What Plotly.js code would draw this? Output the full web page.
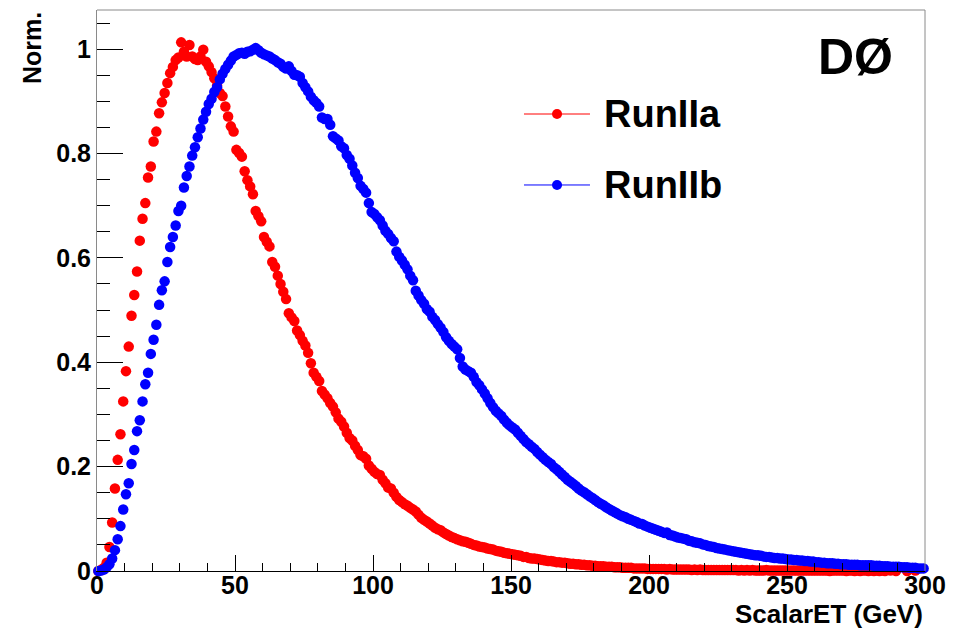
<!DOCTYPE html>
<html>
<head>
<meta charset="utf-8">
<script src="https://cdn.plot.ly/plotly-3.0.1.min.js"></script>
<style>
  html, body { margin: 0; padding: 0; background: #fff; }
  #chart { width: 961px; height: 630px; }
</style>
</head>
<body>
<div id="chart"></div>
<script>
// Histogram binning (GeV): 300 bins of 1 GeV starting at 0
const binLow = 0;
const binWidth = 1;

const seriesNames = ['RunIIa', 'RunIIb'];
const seriesColors = ['#ff0000', '#0000ff'];

// Normalised ScalarET distribution, Run IIa (one value per bin)
const runIIa = [
  0.000, 0.002, 0.006, 0.016, 0.046, 0.093, 0.158, 0.213, 0.262, 0.325,
  0.383, 0.430, 0.489, 0.529, 0.574, 0.633, 0.675, 0.705, 0.754, 0.775,
  0.823, 0.842, 0.877, 0.898, 0.916, 0.935, 0.954, 0.966, 0.979, 0.984,
  1.013, 0.995, 0.986, 1.008, 0.986, 0.981, 0.979, 0.986, 0.999, 0.976,
  0.967, 0.956, 0.944, 0.930, 0.916, 0.910, 0.890, 0.871, 0.852, 0.842,
  0.807, 0.801, 0.794, 0.766, 0.749, 0.737, 0.722, 0.690, 0.680, 0.670,
  0.640, 0.631, 0.622, 0.592, 0.583, 0.566, 0.550, 0.535, 0.521, 0.494,
  0.486, 0.479, 0.461, 0.452, 0.441, 0.432, 0.418, 0.398, 0.380, 0.372,
  0.364, 0.345, 0.338, 0.331, 0.322, 0.315, 0.304, 0.292, 0.286, 0.277,
  0.265, 0.255, 0.250, 0.240, 0.232, 0.222, 0.220, 0.215, 0.202, 0.196,
  0.190, 0.186, 0.184, 0.175, 0.168, 0.160, 0.158, 0.150, 0.142, 0.136,
  0.132, 0.128, 0.125, 0.121, 0.118, 0.114, 0.108, 0.102, 0.098, 0.095,
  0.091, 0.087, 0.083, 0.080, 0.078, 0.074, 0.071, 0.068, 0.065, 0.063,
  0.061, 0.059, 0.057, 0.056, 0.054, 0.052, 0.050, 0.049, 0.047, 0.046,
  0.045, 0.043, 0.042, 0.041, 0.039, 0.038, 0.037, 0.035, 0.034, 0.033,
  0.032, 0.031, 0.030, 0.029, 0.027, 0.027, 0.025, 0.024, 0.024, 0.023,
  0.022, 0.021, 0.020, 0.019, 0.019, 0.018, 0.017, 0.017, 0.016, 0.016,
  0.015, 0.014, 0.014, 0.013, 0.013, 0.012, 0.012, 0.011, 0.011, 0.010,
  0.010, 0.009, 0.009, 0.009, 0.008, 0.008, 0.008, 0.007, 0.007, 0.007,
  0.006, 0.006, 0.006, 0.006, 0.005, 0.005, 0.005, 0.005, 0.005, 0.004,
  0.004, 0.004, 0.004, 0.004, 0.004, 0.004, 0.003, 0.004, 0.003, 0.003,
  0.003, 0.003, 0.003, 0.003, 0.003, 0.002, 0.003, 0.002, 0.003, 0.002,
  0.002, 0.002, 0.002, 0.002, 0.002, 0.002, 0.002, 0.002, 0.002, 0.002,
  0.002, 0.002, 0.001, 0.002, 0.001, 0.002, 0.001, 0.002, 0.001, 0.001,
  0.001, 0.001, 0.002, 0.001, 0.001, 0.001, 0.001, 0.001, 0.001, 0.001,
  0.001, 0.001, 0.001, 0.001, 0.001, 0.001, 0.001, 0.001, 0.001, 0.001,
  0.001, 0.001, 0.001, 0.001, 0.001, 0.000, 0.001, 0.001, 0.001, 0.001,
  0.001, 0.000, 0.001, 0.001, 0.000, 0.001, 0.000, 0.001, 0.001, 0.000,
  0.001, 0.000, 0.001, 0.000, 0.001, 0.000, null,  0.001, null,  0.000,
  null,  null,  null,  0.000, null,  null,  0.001, null,  null,  null
];

// Normalised ScalarET distribution, Run IIb (one value per bin)
const runIIb = [
  0.000, 0.001, 0.003, 0.007, 0.013, 0.024, 0.040, 0.061, 0.086, 0.118,
  0.147, 0.168, 0.205, 0.232, 0.268, 0.289, 0.325, 0.358, 0.380, 0.416,
  0.443, 0.472, 0.510, 0.538, 0.555, 0.592, 0.621, 0.640, 0.662, 0.690,
  0.700, 0.735, 0.757, 0.775, 0.796, 0.812, 0.831, 0.848, 0.865, 0.880,
  0.895, 0.905, 0.918, 0.927, 0.942, 0.953, 0.962, 0.970, 0.978, 0.986,
  0.989, 0.992, 0.993, 0.991, 0.995, 0.996, 0.999, 1.002, 0.998, 0.993,
  0.990, 0.988, 0.986, 0.982, 0.979, 0.975, 0.972, 0.966, 0.963, 0.967,
  0.958, 0.951, 0.950, 0.947, 0.935, 0.927, 0.919, 0.909, 0.902, 0.897,
  0.890, 0.869, 0.866, 0.866, 0.855, 0.833, 0.829, 0.825, 0.814, 0.810,
  0.797, 0.790, 0.777, 0.763, 0.753, 0.738, 0.732, 0.725, 0.705, 0.688,
  0.684, 0.678, 0.672, 0.662, 0.652, 0.646, 0.638, 0.632, 0.612, 0.602,
  0.595, 0.587, 0.578, 0.566, 0.557, 0.537, 0.528, 0.519, 0.512, 0.502,
  0.497, 0.487, 0.481, 0.473, 0.466, 0.458, 0.448, 0.441, 0.435, 0.430,
  0.425, 0.408, 0.392, 0.386, 0.383, 0.380, 0.372, 0.362, 0.356, 0.348,
  0.340, 0.331, 0.322, 0.314, 0.307, 0.302, 0.297, 0.290, 0.284, 0.279,
  0.275, 0.271, 0.265, 0.259, 0.253, 0.247, 0.243, 0.238, 0.234, 0.228,
  0.223, 0.218, 0.213, 0.209, 0.205, 0.199, 0.195, 0.190, 0.185, 0.180,
  0.175, 0.171, 0.167, 0.163, 0.158, 0.154, 0.151, 0.147, 0.143, 0.140,
  0.136, 0.132, 0.129, 0.126, 0.122, 0.119, 0.116, 0.113, 0.110, 0.107,
  0.105, 0.103, 0.100, 0.098, 0.096, 0.094, 0.091, 0.090, 0.087, 0.085,
  0.083, 0.081, 0.079, 0.077, 0.075, 0.073, 0.074, 0.069, 0.068, 0.066,
  0.064, 0.063, 0.062, 0.061, 0.058, 0.057, 0.055, 0.054, 0.053, 0.051,
  0.050, 0.048, 0.047, 0.046, 0.044, 0.043, 0.042, 0.041, 0.040, 0.039,
  0.038, 0.037, 0.036, 0.035, 0.034, 0.033, 0.032, 0.031, 0.030, 0.030,
  0.029, 0.028, 0.027, 0.027, 0.026, 0.025, 0.025, 0.024, 0.024, 0.023,
  0.022, 0.022, 0.021, 0.021, 0.020, 0.020, 0.019, 0.019, 0.018, 0.018,
  0.017, 0.017, 0.016, 0.016, 0.015, 0.015, 0.015, 0.014, 0.014, 0.013,
  0.013, 0.013, 0.012, 0.012, 0.012, 0.012, 0.011, 0.011, 0.011, 0.011,
  0.011, 0.010, 0.010, 0.010, 0.009, 0.009, 0.009, 0.008, 0.008, 0.008,
  0.008, 0.007, 0.007, 0.007, 0.006, 0.006, 0.006, 0.005, 0.005, 0.005
];

const binCenters = runIIa.map((_, i) => binLow + (i + 0.5) * binWidth);

const FONT = 'Liberation Sans, Arial, Helvetica, sans-serif';
const MARKER_SIZE = 10.5;

const traces = [runIIa, runIIb].map((vals, k) => ({
  type: 'scatter',
  mode: 'markers',
  name: seriesNames[k],
  x: binCenters,
  y: vals,
  cliponaxis: false,
  marker: { color: seriesColors[k], size: MARKER_SIZE, line: { width: 0 } },
  hoverinfo: 'x+y+name'
}));

const axisFont = { family: FONT, size: 25, color: '#000', weight: 'bold' };

// Hand-placed legend (paper coordinates): line + marker + label
const legendRows = [
  { y: 0.8146, color: seriesColors[0], label: seriesNames[0] },
  { y: 0.6881, color: seriesColors[1], label: seriesNames[1] }
];
const legendLineX = [0.5157, 0.5954];
const legendDotX = 0.5556;
const legendTextX = 0.6100;

const shapes = [
  // top and right frame edges
  { type: 'line', xref: 'paper', yref: 'paper', x0: 0, x1: 1, y0: 1, y1: 1,
    line: { color: '#8a8a8a', width: 1 } },
  { type: 'line', xref: 'paper', yref: 'paper', x0: 1, x1: 1, y0: 0, y1: 1,
    line: { color: '#8a8a8a', width: 1 } }
];
legendRows.forEach(r => {
  shapes.push({ type: 'line', xref: 'paper', yref: 'paper',
    x0: legendLineX[0], x1: legendLineX[1], y0: r.y, y1: r.y,
    line: { color: r.color, width: 1 } });
  shapes.push({ type: 'circle', xref: 'paper', yref: 'paper',
    xsizemode: 'pixel', ysizemode: 'pixel',
    xanchor: legendDotX, yanchor: r.y, x0: -5, x1: 5, y0: -5, y1: 5,
    fillcolor: r.color, line: { width: 0 } });
});

const annotations = [
  { text: 'Norm.', xref: 'paper', yref: 'paper', x: -0.0785, y: 1.0,
    xanchor: 'center', yanchor: 'top', textangle: -90, showarrow: false,
    font: { family: FONT, size: 25, color: '#000', weight: 'bold' } },
  { text: 'ScalarET (GeV)', xref: 'paper', yref: 'paper', x: 1.0, y: -0.0775,
    xanchor: 'right', yanchor: 'middle', showarrow: false,
    font: { family: FONT, size: 26, color: '#000', weight: 'bold' } },
  { text: 'DØ', xref: 'paper', yref: 'paper', x: 0.9155, y: 0.9162,
    xanchor: 'center', yanchor: 'middle', showarrow: false,
    font: { family: FONT, size: 50, color: '#000', weight: 'bold' } }
];
legendRows.forEach(r => annotations.push({
  text: r.label, xref: 'paper', yref: 'paper', x: legendTextX, y: r.y,
  xanchor: 'left', yanchor: 'middle', showarrow: false,
  font: { family: FONT, size: 38, color: '#000', weight: 'bold' }
}));

const layout = {
  width: 961,
  height: 630,
  margin: { l: 97, r: 36, t: 10, b: 59 },
  paper_bgcolor: '#ffffff',
  plot_bgcolor: '#ffffff',
  showlegend: false,
  xaxis: {
    range: [0, 300], tick0: 0, dtick: 50,
    ticks: 'inside', ticklen: 16, tickwidth: 1, tickcolor: '#000',
    minor: { dtick: 10, ticks: 'inside', ticklen: 8, tickwidth: 1, tickcolor: '#000', showgrid: false },
    showline: true, linecolor: '#000', linewidth: 1,
    showgrid: false, zeroline: false,
    ticklabelstandoff: -8,
    tickfont: axisFont
  },
  yaxis: {
    range: [0, 1.075], tick0: 0, dtick: 0.2,
    ticks: 'inside', ticklen: 26, tickwidth: 1, tickcolor: '#000',
    minor: { dtick: 0.05, ticks: 'inside', ticklen: 13, tickwidth: 1, tickcolor: '#000', showgrid: false },
    showline: true, linecolor: '#8a8a8a', linewidth: 1,
    showgrid: false, zeroline: false,
    tickfont: axisFont
  },
  shapes: shapes,
  annotations: annotations
};

Plotly.newPlot('chart', traces, layout, { displayModeBar: false, staticPlot: true });
</script>
</body>
</html>
